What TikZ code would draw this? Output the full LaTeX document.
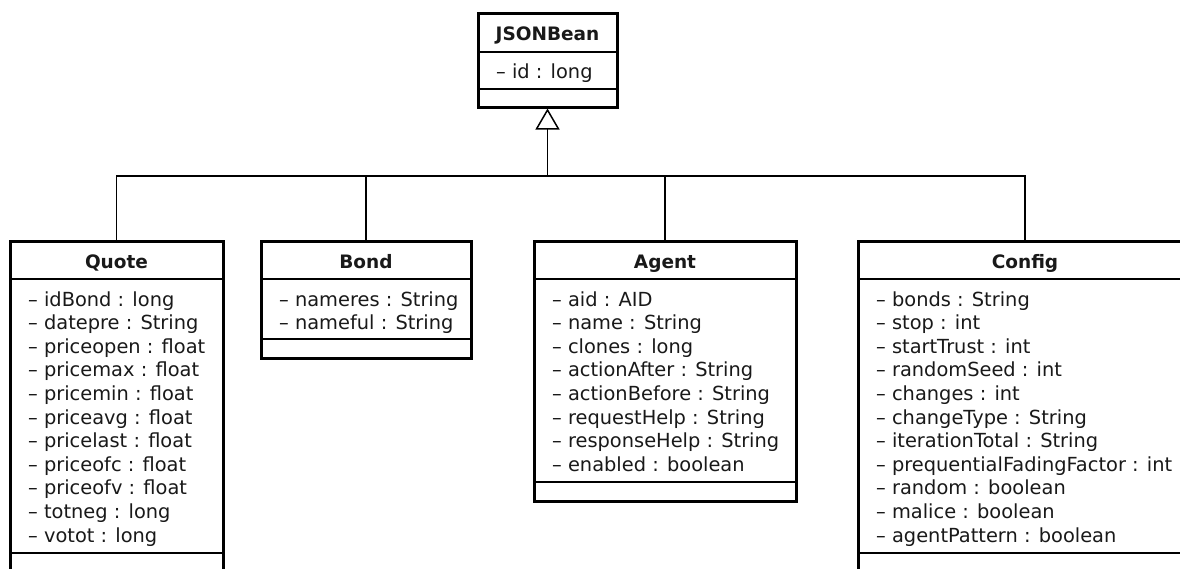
\documentclass[tikz,border=0pt]{standalone}
\usepackage{fontspec}
\setmainfont{DejaVu Sans}
\usetikzlibrary{arrows.meta}

\tikzset{
  classbox/.style={draw, line width=3pt, fill=white, anchor=north west, inner sep=0pt, outer sep=0pt},
  sepline/.style={line width=1.3pt},
  classtitle/.style={font=\fontsize{18.5}{22}\selectfont\bfseries, anchor=base, inner sep=0pt, text=black!90},
  attr/.style={font=\fontsize{19.4}{23.6}\selectfont, anchor=base west, inner sep=0pt, text=black!90},
  link/.style={line width=1.5pt},
  inherit/.style={link, -{Triangle[open, length=21pt, width=24pt, line width=1.5pt]}},
}

% #1 name, #2 left, #3 top, #4 width, #5 header rule, #6 attribute rule,
% #7 bottom, #8 class name, #9 attributes
\newcommand\umlclass[9]{%
  \node[classbox, minimum width=#4pt, minimum height={(#7-#3)*1pt}] (#1) at (#2,#3) {};
  \draw[sepline] (#1.west |- 0,#5) -- (#1.east |- 0,#5);
  \draw[sepline] (#1.west |- 0,#6) -- (#1.east |- 0,#6);
  \node[classtitle] (#1-t) at ({#2+#4/2},{#3+27.5}) {#8};
  \foreach \a [count=\i from 0] in {#9}
    \node[attr] (#1-a\i) at ({#2+18},{#3+65+\i*23.6}) {– \a};
}

\begin{document}
\begin{tikzpicture}[x=1pt, y=-1pt]
  \useasboundingbox (0,0) rectangle (1180,568);
  \fill[white] (0,0) rectangle (1180,568);
  \clip (0,0) rectangle (1180,568);

  \umlclass{jsonbean}{478}{13}{139}{52}{89}{107}{JSONBean}{id : long}

  \umlclass{quote}{10}{241}{213}{279}{553}{572}{Quote}{%
    idBond : long, datepre : String, priceopen : float, pricemax : float,
    pricemin : float, priceavg : float, pricelast : float, priceofc : float,
    priceofv : float, totneg : long, votot : long}

  \umlclass{bond}{261}{241}{210}{279}{339}{358}{Bond}{%
    nameres : String, nameful : String}

  \umlclass{agent}{534}{241}{262}{279}{482}{501}{Agent}{%
    aid : AID, name : String, clones : long, actionAfter : String,
    actionBefore : String, requestHelp : String, responseHelp : String,
    enabled : boolean}

  \umlclass{config}{858}{241}{334}{279}{553}{572}{Config}{%
    bonds : String, stop : int, startTrust : int, randomSeed : int,
    changes : int, changeType : String, iterationTotal : String,
    prequentialFadingFactor : int, random : boolean, malice : boolean,
    agentPattern : boolean}

  % generalisation tree
  \coordinate (bus) at (0,176);
  \draw[link] (quote.north) |- (config.north |- bus) -- (config.north);
  \draw[link] (bond.north) -- (bond.north |- bus);
  \draw[link] (agent.north) -- (agent.north |- bus);
  \draw[inherit] (jsonbean.south |- bus) -- ([yshift=-1.5pt]jsonbean.south);
\end{tikzpicture}
\end{document}
